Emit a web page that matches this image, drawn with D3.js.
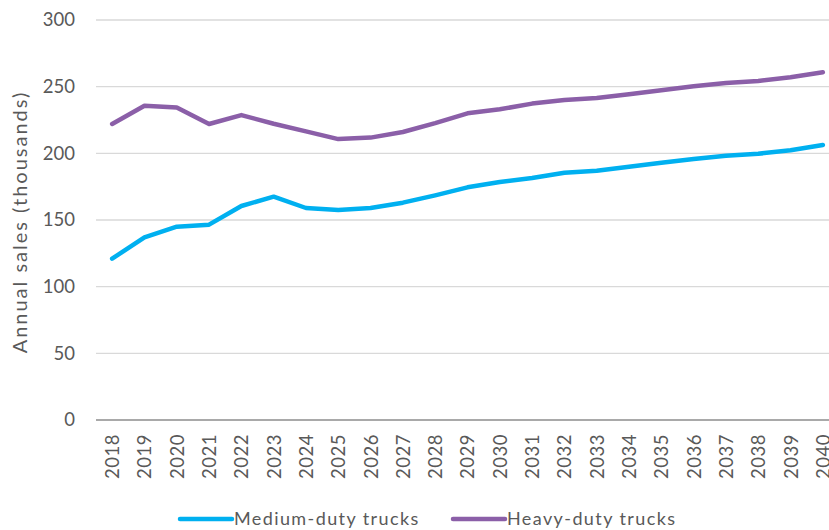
<!DOCTYPE html>
<html>
<head>
  <meta charset="UTF-8">
  <title>Truck sales</title>
  <script src="https://cdnjs.cloudflare.com/ajax/libs/d3/7.8.5/d3.min.js"></script>
  <style>
    body { margin: 0; background: #fff; }
    text { font-family: Lato, "Open Sans", sans-serif; fill: #595959; }
    .grid line { stroke: #d9d9d9; stroke-width: 1.3; }
  </style>
</head>
<body>
<div id="chart"></div>
<script>
  // Data
  const years = ["2018","2019","2020","2021","2022","2023","2024","2025","2026","2027","2028",
    "2029","2030","2031","2032","2033","2034","2035","2036","2037","2038","2039","2040"];
  const mediumDuty = [121, 137, 145, 146.5, 160.5, 167.5, 159, 157.5, 159, 163, 168.5,
    174.5, 178.5, 181.5, 185.5, 187, 190, 193, 195.7, 198.2, 199.7, 202.3, 206.3];
  const heavyDuty = [222, 235.7, 234.3, 222, 228.7, 222.2, 216.5, 210.7, 211.8, 216, 222.7,
    230, 233, 237.3, 240, 241.5, 244.3, 247.3, 250.3, 252.8, 254.3, 257, 260.8];
  const yTicks = [0, 50, 100, 150, 200, 250, 300];
  const seriesNames = ["Medium-duty trucks", "Heavy-duty trucks"];
  const colors = ["#00b0f0", "#8b5fa8"];

  const width = 829, height = 530;
  const plot = { left: 96, right: 839, top: 20, bottom: 420 };

  const svg = d3.select("#chart").append("svg")
    .attr("width", width)
    .attr("height", height);

  const x = d3.scalePoint().domain(years).range([plot.left, plot.right]).padding(0.5);
  const y = d3.scaleLinear().domain([0, 300]).range([plot.bottom, plot.top]);

  // Gridlines
  svg.append("g").attr("class", "grid")
    .selectAll("line")
    .data(yTicks.filter(d => d > 0))
    .enter().append("line")
    .attr("x1", plot.left).attr("x2", plot.right)
    .attr("y1", d => y(d)).attr("y2", d => y(d));

  // Y axis labels
  const yAxis = svg.append("g")
    .attr("transform", `translate(${plot.left}, 0)`)
    .call(d3.axisLeft(y).tickValues(yTicks).tickSize(0).tickPadding(21));
  yAxis.select(".domain").remove();
  yAxis.selectAll("text").style("font-size", "18.5px").attr("fill", "#595959");

  // X axis
  const xAxis = svg.append("g")
    .attr("transform", `translate(0, ${plot.bottom})`)
    .call(d3.axisBottom(x).tickSize(0));
  xAxis.select(".domain")
    .attr("d", `M${plot.left},0H${plot.right}`)
    .attr("stroke", "#8c8c8c").attr("stroke-width", 1.5);
  xAxis.selectAll("text")
    .style("font-size", "18.5px")
    .style("letter-spacing", "0.5px")
    .attr("fill", "#595959")
    .attr("transform", "rotate(-90)")
    .attr("text-anchor", "end")
    .attr("dy", "0.35em")
    .attr("x", -14)
    .attr("y", 0);

  // Y axis title
  svg.append("text")
    .attr("transform", `translate(27, ${(plot.top + plot.bottom) / 2 + 2}) rotate(-90)`)
    .attr("text-anchor", "middle")
    .style("font-size", "20px")
    .style("letter-spacing", "2px")
    .text("Annual sales (thousands)");

  // Lines
  const line = d3.line()
    .x((d, i) => x(years[i]))
    .y(d => y(d));

  [mediumDuty, heavyDuty].forEach((s, i) => {
    svg.append("path")
      .datum(s)
      .attr("fill", "none")
      .attr("stroke", colors[i])
      .attr("stroke-width", 4.5)
      .attr("stroke-linejoin", "round")
      .attr("stroke-linecap", "round")
      .attr("d", line);
  });

  // Legend
  const legendX = [180, 453];
  seriesNames.forEach((name, i) => {
    const g = svg.append("g").attr("transform", `translate(${legendX[i]}, 519)`);
    g.append("line")
      .attr("x1", 0).attr("x2", 52)
      .attr("stroke", colors[i]).attr("stroke-width", 4.5)
      .attr("stroke-linecap", "round");
    g.append("text")
      .attr("x", 54).attr("dy", "0.35em")
      .style("font-size", "18px")
      .style("letter-spacing", "1.4px")
      .text(name);
  });
</script>
</body>
</html>
